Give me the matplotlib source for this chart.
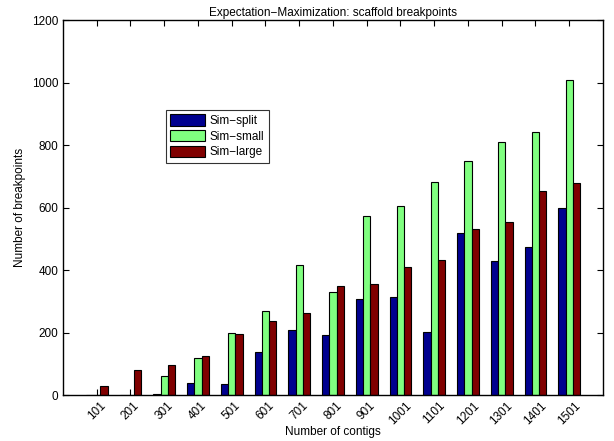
import matplotlib
matplotlib.use("Agg")
import matplotlib.pyplot as plt
import numpy as np

plt.rcParams["font.family"] = ["Liberation Sans", "DejaVu Sans"]

contigs = ["101", "201", "301", "401", "501", "601", "701", "801",
           "901", "1001", "1101", "1201", "1301", "1401", "1501"]
sim_split = [1, 1, 2, 38, 36, 137, 207, 192, 306, 313, 201, 519, 430, 475, 600]
sim_small = [0, 0, 61, 120, 200, 268, 417, 330, 572, 604, 682, 750, 811, 843, 1009]
sim_large = [29, 80, 96, 124, 194, 237, 264, 348, 356, 411, 431, 530, 555, 653, 677]

series = [("Sim\u2212split", sim_split, "#00008F"),
          ("Sim\u2212small", sim_small, "#80FF80"),
          ("Sim\u2212large", sim_large, "#800000")]

fig = plt.figure(figsize=(6.14, 4.41), dpi=100)
ax = fig.add_axes([0.1026, 0.1043, 0.8794, 0.8503])
ax.set_axisbelow(True)

x = np.arange(1, len(contigs) + 1)
w = 0.215
for i, (name, vals, col) in enumerate(series):
    ax.bar(x + (i - 1) * w, vals, width=w, color=col, edgecolor="black",
           linewidth=0.8, label=name)

ax.set_xlim(0, 16)
ax.set_ylim(0, 1200)
ax.set_xticks(x)
ax.set_xticklabels(contigs, rotation=45, fontsize=8.5)
ax.set_yticks(np.arange(0, 1201, 200))
ax.tick_params(axis="y", labelsize=8.5)
ax.tick_params(direction="in", top=True, right=True, length=4, width=0.8)
for sp in ax.spines.values():
    sp.set_linewidth(1.0)

ax.set_title("Expectation\u2212Maximization: scaffold breakpoints", fontsize=8.5, pad=3)
ax.set_xlabel("Number of contigs", fontsize=8.5, labelpad=-1)
ax.set_ylabel("Number of breakpoints", fontsize=8.5, labelpad=4)

leg = ax.legend(loc="upper left", bbox_to_anchor=(0.179, 0.775), fontsize=8.5,
                frameon=True, fancybox=False, edgecolor="black",
                handlelength=3.0, handleheight=1.1, borderpad=0.35,
                labelspacing=0.25, handletextpad=0.4)
leg.get_frame().set_linewidth(0.8)

fig.savefig("out.png", dpi=100)
